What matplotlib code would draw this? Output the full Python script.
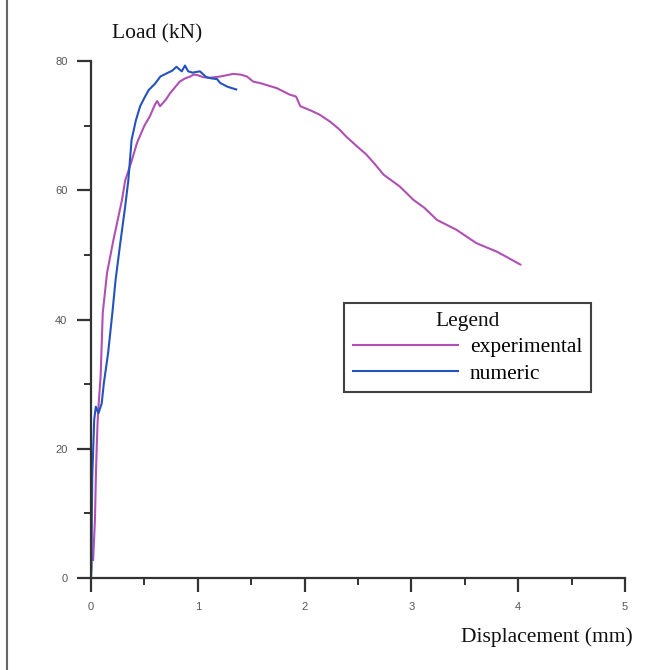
import matplotlib
matplotlib.use("Agg")
import matplotlib.pyplot as plt
from matplotlib.lines import Line2D
from matplotlib.ticker import MultipleLocator

# experimental load-displacement curve
exp_disp = [0.02, 0.037, 0.047, 0.06, 0.068, 0.09, 0.11, 0.15, 0.21, 0.29, 0.32, 0.38,
            0.43, 0.5, 0.55, 0.6, 0.62, 0.646, 0.7, 0.74, 0.8, 0.83, 0.88, 0.93, 0.96,
            1.0, 1.05, 1.11, 1.16, 1.21, 1.27, 1.33, 1.4, 1.46, 1.52, 1.58, 1.66, 1.74,
            1.86, 1.92, 1.96, 2.05, 2.14, 2.24, 2.32, 2.39, 2.49, 2.58, 2.66, 2.74, 2.89,
            3.02, 3.12, 3.24, 3.42, 3.61, 3.80, 3.9, 4.02]
exp_load = [2.8, 9, 16.7, 23.4, 26, 31.2, 41, 47.2, 52.3, 58.5, 61.5, 64.5,
            67.3, 70, 71.4, 73.3, 73.8, 73.0, 74, 75, 76.2, 76.8, 77.3, 77.6, 77.9,
            77.8, 77.5, 77.4, 77.5, 77.6, 77.8, 78, 77.9, 77.6, 76.8, 76.6, 76.2, 75.8,
            74.8, 74.5, 73.0, 72.4, 71.7, 70.6, 69.5, 68.3, 66.8, 65.5, 64.0, 62.4, 60.6,
            58.5, 57.3, 55.4, 53.9, 51.8, 50.5, 49.6, 48.5]

# numeric curve
num_disp = [0.0, 0.005, 0.008, 0.012, 0.03, 0.045, 0.07, 0.1, 0.12, 0.16, 0.2, 0.23,
            0.27, 0.32, 0.35, 0.38, 0.42, 0.46, 0.5, 0.54, 0.6, 0.65, 0.71, 0.76, 0.80,
            0.85, 0.88, 0.91, 0.95, 1.02, 1.08, 1.13, 1.18, 1.21, 1.28, 1.36]
num_load = [0.0, 1.7, 10, 15.7, 24.5, 26.5, 25.5, 27, 30.1, 34.8, 41, 46.1,
            51.3, 57.5, 61.6, 67.8, 70.8, 73, 74.3, 75.5, 76.5, 77.6, 78.1, 78.5, 79.1,
            78.4, 79.3, 78.4, 78.2, 78.4, 77.5, 77.3, 77.2, 76.6, 76.0, 75.6]

x_ticks = [0, 1, 2, 3, 4, 5]
y_ticks = [0, 20, 40, 60, 80]

SERIF = ["Liberation Serif", "DejaVu Serif"]
AXIS_COLOR = "#333333"
LABEL_SIZE = 15.5

fig = plt.figure(figsize=(6.6, 6.7), dpi=100)
ax = fig.add_axes([91 / 660, 1 - 578 / 670, (625 - 91) / 660, (578 - 61) / 670])

ax.plot(exp_disp, exp_load, color="#b150b4", linewidth=1.5, label="experimental", clip_on=False)
ax.plot(num_disp, num_load, color="#2453c0", linewidth=1.5, label="numeric", clip_on=False)

ax.set_xlim(0, 5)
ax.set_ylim(0, 80)
ax.set_xticks(x_ticks)
ax.set_yticks(y_ticks)
ax.xaxis.set_minor_locator(MultipleLocator(0.5))
ax.yaxis.set_minor_locator(MultipleLocator(10))

for side in ("top", "right"):
    ax.spines[side].set_visible(False)
for side in ("left", "bottom"):
    ax.spines[side].set_color(AXIS_COLOR)
    ax.spines[side].set_linewidth(1.6)

ax.tick_params(which="major", length=10, width=1.6, color=AXIS_COLOR, pad=7,
               labelsize=8, labelcolor="#555555")
ax.tick_params(which="minor", length=5, width=1.4, color=AXIS_COLOR)
for lbl in ax.get_xticklabels() + ax.get_yticklabels():
    lbl.set_family("Liberation Sans")

fig.text(157 / 660, 1 - 34 / 670, "Load (kN)", family=SERIF, fontsize=LABEL_SIZE,
         ha="center", va="center", color="#111111")
fig.text(633 / 660, 1 - 637 / 670, "Displacement (mm)", family=SERIF, fontsize=LABEL_SIZE,
         ha="right", va="center", color="#111111")

leg = ax.legend(loc="upper left", bbox_to_anchor=(344 / 660, 1 - 303 / 670),
                bbox_transform=fig.transFigure, title="Legend", fancybox=False,
                frameon=True, edgecolor="#111111", handlelength=4.9, handletextpad=0.55,
                borderpad=0.4, labelspacing=0.3, borderaxespad=0,
                prop={"family": SERIF, "size": LABEL_SIZE},
                title_fontproperties={"family": SERIF, "size": LABEL_SIZE})
leg.get_frame().set_linewidth(1.5)
leg.get_title().set_color("#111111")

# page frame line on the left
fig.add_artist(Line2D([7 / 660, 7 / 660], [0, 1], transform=fig.transFigure,
                      color="#666666", linewidth=1.5))

fig.savefig("out.png", dpi=100)
